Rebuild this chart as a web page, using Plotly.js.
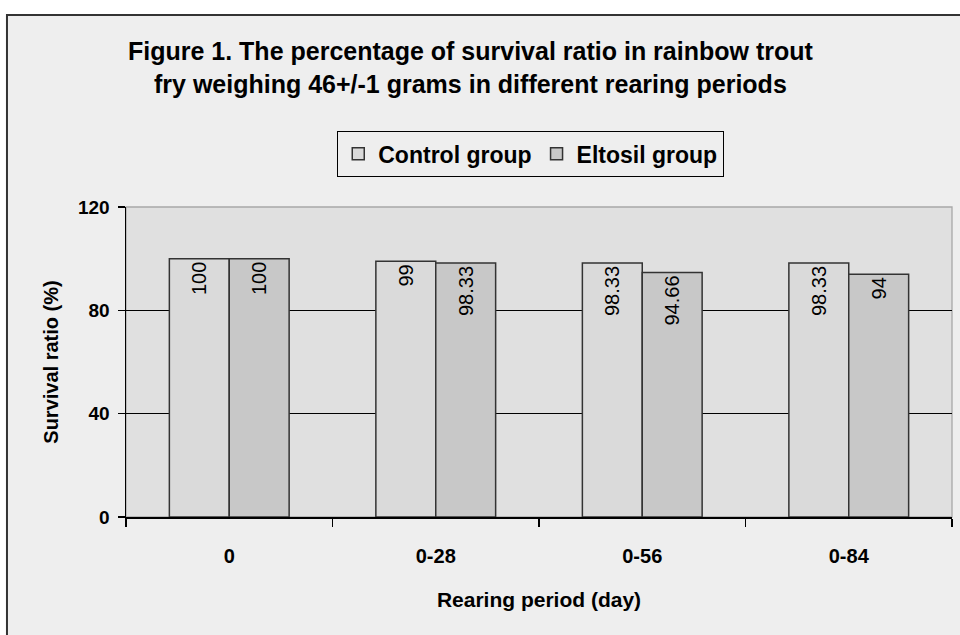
<!DOCTYPE html>
<html><head><meta charset="utf-8">
<script src="https://cdn.plot.ly/plotly-3.0.1.min.js"></script>
<style>html,body{margin:0;padding:0;background:#fff;}#chart{width:960px;height:635px;}</style>
</head><body><div id="chart"></div>
<script>
const categories = ["0", "0-28", "0-56", "0-84"];
const controlValues = [100, 99, 98.33, 98.33];
const eltosilValues = [100, 98.33, 94.66, 94];
const controlLabels = ["100", "99", "98.33", "98.33"];
const eltosilLabels = ["100", "98.33", "94.66", "94"];
const yTicks = [0, 40, 80, 120];

const bold = "Liberation Sans, Arial, sans-serif";
const regular = "Liberation Sans, Arial, sans-serif";

const common = {
  type: "bar",
  x: categories,
  textposition: "inside",
  insidetextanchor: "end",
  textangle: -90,
  textfont: {family: regular, size: 20, color: "#000"},
  hoverinfo: "skip"
};
const traces = [
  Object.assign({}, common, {name: "Control group", y: controlValues, text: controlLabels,
    marker: {color: "#dadada", line: {color: "#333", width: 1.5}}}),
  Object.assign({}, common, {name: "Eltosil group", y: eltosilValues, text: eltosilLabels,
    marker: {color: "#c8c8c8", line: {color: "#333", width: 1.5}}})
];

const layout = {
  width: 960, height: 635,
  margin: {l: 126, r: 8, t: 207, b: 118},
  paper_bgcolor: "#ffffff",
  plot_bgcolor: "rgba(0,0,0,0)",
  barmode: "group",
  bargap: 0.42,
  bargroupgap: 0,
  showlegend: true,
  title: {
    text: "Figure 1. The percentage of survival ratio in rainbow trout<br>fry weighing 46+/-1 grams in different rearing periods",
    x: 0.49, xanchor: "center", y: 0.905, yanchor: "top",
    font: {family: bold, size: 25, weight: "bold", color: "#000"}
  },
  legend: {
    orientation: "h", x: 0.2554, xanchor: "left", y: 1.245, yanchor: "top",
    bgcolor: "rgba(0,0,0,0)", bordercolor: "#000", borderwidth: 1.3,
    font: {family: bold, size: 23, weight: "bold", color: "#000"},
    traceorder: "normal", itemwidth: 30
  },
  xaxis: {
    type: "category",
    tickson: "boundaries", ticks: "outside", ticklen: 8, tickcolor: "#000", tickwidth: 1.3,
    showline: true, linecolor: "#000", linewidth: 1.5,
    showgrid: false, zeroline: false,
    tickfont: {family: bold, size: 20, weight: "bold", color: "#000"},
    ticklabelstandoff: 20,
    title: {text: "Rearing period (day)", standoff: 27,
      font: {family: bold, size: 21, weight: "bold", color: "#000"}}
  },
  yaxis: {
    range: [0, 120], tickvals: yTicks, ticktext: yTicks.map(String),
    ticks: "outside", ticklen: 7, tickcolor: "#000", tickwidth: 1.3,
    showline: true, linecolor: "#000", linewidth: 1.5,
    showgrid: true, gridcolor: "#000", gridwidth: 1.3, zeroline: false,
    tickfont: {family: bold, size: 19, weight: "bold", color: "#000"},
    ticklabelstandoff: 4,
    title: {text: "Survival ratio (%)", standoff: 14,
      font: {family: bold, size: 20, weight: "bold", color: "#000"}}
  },
  shapes: [
    {type: "rect", xref: "paper", yref: "paper", layer: "below",
      x0: -0.1441, x1: 1.2, y0: -0.6, y1: 1.619,
      fillcolor: "#eeeeee", line: {color: "#333", width: 2}},
    {type: "rect", xref: "paper", yref: "paper", layer: "below",
      x0: 0, x1: 1, y0: 0, y1: 1,
      fillcolor: "#e0e0e0", line: {color: "#a8a8a8", width: 1.3}}
  ]
};

Plotly.newPlot("chart", traces, layout, {displayModeBar: false, staticPlot: true});
</script>
</body></html>
